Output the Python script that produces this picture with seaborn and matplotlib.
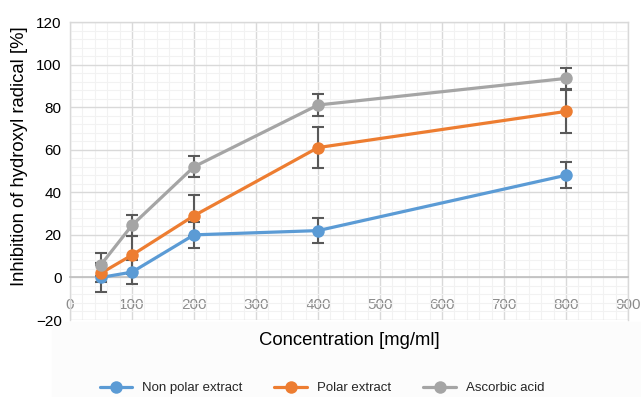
import numpy as np
import pandas as pd
import matplotlib
matplotlib.use("Agg")
import matplotlib.pyplot as plt
import seaborn as sns
from matplotlib.ticker import MultipleLocator

concentration = [50, 100, 200, 400, 800]
series_names = ["Non polar extract", "Polar extract", "Ascorbic acid"]
non_polar = [0.0, 2.5, 20.0, 22.0, 48.0]
non_polar_err = [7.0, 5.5, 6.0, 6.0, 6.0]
polar = [2.0, 10.5, 29.0, 61.0, 78.0]
polar_err = [4.0, 9.0, 9.5, 9.5, 10.0]
ascorbic = [6.0, 24.5, 52.0, 81.0, 93.5]
ascorbic_err = [5.5, 5.0, 5.0, 5.0, 5.0]
colors = ["#5b9bd5", "#ed7d31", "#a5a5a5"]

sns.set_style("white")
plt.rcParams["font.family"] = ["Liberation Sans", "DejaVu Sans"]

frames = []
for name, vals, errs in zip(series_names, [non_polar, polar, ascorbic],
                            [non_polar_err, polar_err, ascorbic_err]):
    frames.append(pd.DataFrame({"Concentration": concentration, "Inhibition": vals,
                                "err": errs, "Series": name}))
df = pd.concat(frames, ignore_index=True)

fig = plt.figure(figsize=(6.41, 3.97), dpi=100)
# subtle grey band below plot
fig.patches.append(plt.Rectangle((52 / 641, 0), 1 - 52 / 641, 1 - 322 / 397,
                                 transform=fig.transFigure, color="#fcfcfc", zorder=-10))
ax = fig.add_axes([70 / 641, 1 - 320 / 397, 558 / 641, 298 / 397])
ax.set_facecolor("none")

ax.set_xlim(0, 900)
ax.set_ylim(-20, 120)
ax.xaxis.set_major_locator(MultipleLocator(100))
ax.xaxis.set_minor_locator(MultipleLocator(20))
ax.yaxis.set_major_locator(MultipleLocator(20))
ax.yaxis.set_minor_locator(MultipleLocator(4))
ax.grid(which="minor", color="#f2f2f2", linewidth=0.8, zorder=0)
ax.grid(which="major", color="#d9d9d9", linewidth=1.0, zorder=0)
ax.set_axisbelow(True)

for (name, sub), c in zip(df.groupby("Series", sort=False), colors):
    ax.errorbar(sub["Concentration"], sub["Inhibition"], yerr=sub["err"], fmt="none",
                ecolor="#595959", elinewidth=1.5, capsize=4, capthick=1.5, zorder=3)

sns.lineplot(data=df, x="Concentration", y="Inhibition", hue="Series",
             hue_order=series_names, palette=colors, marker="o", markersize=9,
             markeredgewidth=0, linewidth=2.3, ax=ax, zorder=4, legend=True)

for s in ["top", "right", "left"]:
    ax.spines[s].set_visible(True)
    ax.spines[s].set_color("#d9d9d9")
    ax.spines[s].set_linewidth(1.0)
ax.spines["bottom"].set_position(("data", 0))
ax.spines["bottom"].set_color("#bfbfbf")
ax.spines["bottom"].set_linewidth(1.2)
ax.spines["left"].set_zorder(1)

ax.tick_params(axis="x", which="both", length=0, pad=15, labelsize=11, labelcolor="#8c8c8c")
ax.tick_params(axis="y", which="both", length=0, pad=6, labelsize=11, labelcolor="#000000")
ax.set_yticks(np.arange(-20, 121, 20))
ax.set_yticklabels(["\u221220" if v == -20 else str(v) for v in range(-20, 121, 20)])

ax.set_xlabel("Concentration [mg/ml]", fontsize=13.3, color="#000000")
ax.xaxis.set_label_coords(0.5, -0.04)
ax.set_ylabel("Inhibition of hydroxyl radical [%]", fontsize=13.3, color="#000000")
ax.yaxis.set_label_coords(-0.075, 0.55)

handles, labels = ax.get_legend_handles_labels()
ax.legend(handles, labels, loc="center", bbox_to_anchor=(322 / 641, 1 - 388 / 397),
          bbox_transform=fig.transFigure, ncol=3, frameon=False, fontsize=9.5,
          handlelength=2.5, columnspacing=2.4, handletextpad=0.75)

fig.savefig("out.png", dpi=100)
